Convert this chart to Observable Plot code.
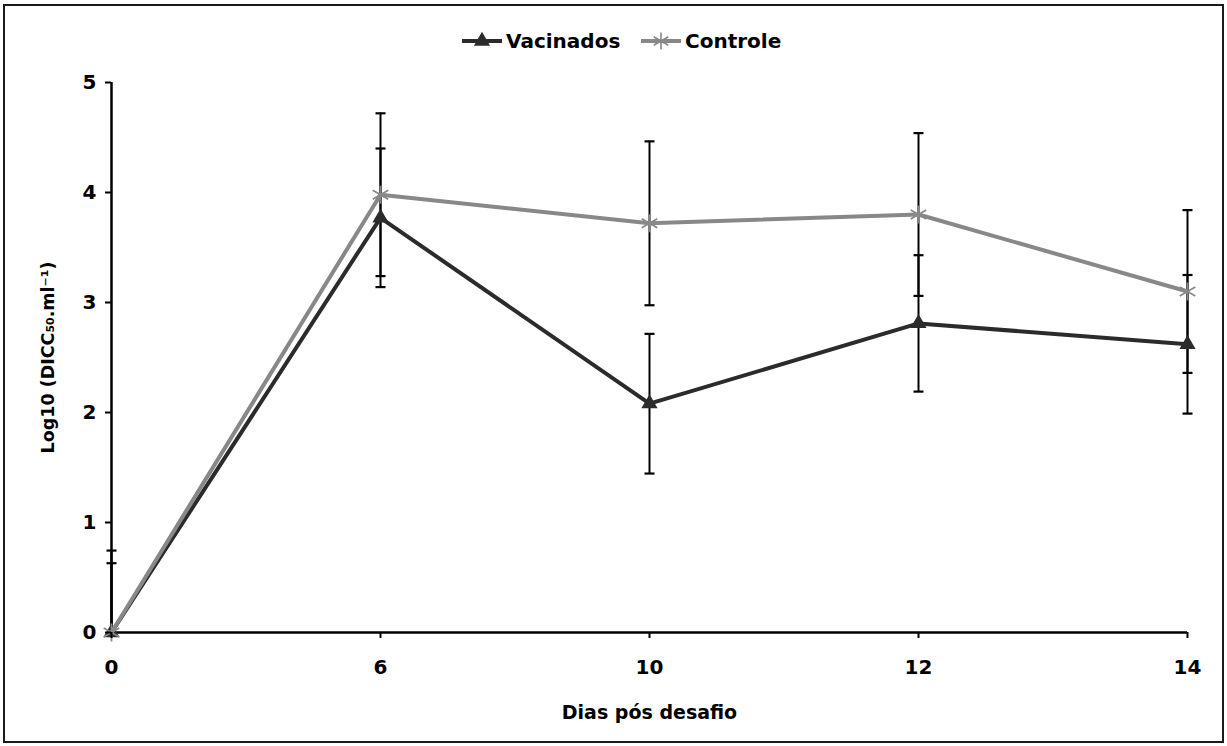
<!DOCTYPE html>
<html><head><meta charset="utf-8">
<script src="https://cdn.jsdelivr.net/npm/d3@7"></script>
<script src="https://cdn.jsdelivr.net/npm/@observablehq/plot@0.6"></script>
<style>
body{margin:0;background:#fff;font-family:"DejaVu Sans",sans-serif;}
#wrap{position:relative;width:1227px;height:746px;overflow:hidden;background:#fff;}
#border{position:absolute;left:3px;top:4px;width:1221px;height:739px;border:2px solid #1a1a1a;box-sizing:border-box;pointer-events:none}
#legend{position:relative;height:60px;}
.item{position:absolute;top:29px;height:24px;display:flex;align-items:center;font-weight:bold;font-size:20px;color:#000;}
.item svg{display:block;margin-right:2px;}
#chart svg{display:block;}
</style></head><body>
<div id="wrap"><div id="legend"></div><div id="chart"></div><div id="border"></div></div>
<script>
const days = ["0", "6", "10", "12", "14"];
const vacinados = [0, 3.77, 2.08, 2.81, 2.62];
const vacinadosErr = [0.63, 0.63, 0.635, 0.62, 0.63];
const controle = [0, 3.98, 3.72, 3.80, 3.10];
const controleErr = [0.745, 0.74, 0.745, 0.74, 0.74];
const seriesNames = ["Vacinados", "Controle"];
const yTicks = [0, 1, 2, 3, 4, 5];
const xLabel = "Dias pós desafio";
const yLabel = "Log10 (DICC₅₀.ml⁻¹)";

const vacColor = "#2b2b2b";
const ctrlColor = "#888888";

const vacRows = days.map((d, i) => ({day: d, v: vacinados[i], e: vacinadosErr[i]}));
const ctrlRows = days.map((d, i) => ({day: d, v: controle[i], e: controleErr[i]}));

// horizontal cap symbol for error bars
const capSymbol = {draw(ctx) { ctx.moveTo(-5, 0); ctx.lineTo(5, 0); }};

function errMarks(rows) {
  return [
    Plot.ruleX(rows, {x: "day", y1: d => Math.max(0, d.v - d.e), y2: d => d.v + d.e, stroke: "#000", strokeWidth: 2}),
    Plot.dot(rows, {x: "day", y: d => d.v + d.e, symbol: capSymbol, stroke: "#000", fill: "none", strokeWidth: 2.2}),
    Plot.dot(rows.filter(d => d.v - d.e >= 0), {x: "day", y: d => d.v - d.e, symbol: capSymbol, stroke: "#000", fill: "none", strokeWidth: 2.2})
  ];
}

const chart = Plot.plot({
  width: 1227,
  height: 686,
  marginTop: 22,
  marginBottom: 114,
  marginLeft: 111,
  marginRight: 40,
  x: {type: "point", domain: days, padding: 0},
  y: {domain: [0, 5]},
  style: {fontFamily: "DejaVu Sans", fontWeight: "bold", color: "#000", background: "transparent", overflow: "visible"},
  marks: [
    ...errMarks(vacRows),
    ...errMarks(ctrlRows),
    Plot.ruleY([0], {stroke: "#000", strokeWidth: 2.5}),
    Plot.ruleX([days[0]], {stroke: "#000", strokeWidth: 2.5}),
    Plot.line(vacRows, {x: "day", y: "v", stroke: vacColor, strokeWidth: 4}),
    Plot.dot(vacRows, {x: "day", y: "v", symbol: "triangle", r: 6, fill: vacColor, stroke: "none"}),
    Plot.line(ctrlRows, {x: "day", y: "v", stroke: ctrlColor, strokeWidth: 4}),
    Plot.dot(ctrlRows, {x: "day", y: "v", symbol: "asterisk", r: 8.5, stroke: ctrlColor, strokeWidth: 1.8}),
    Plot.axisX({tickSize: 6, tickPadding: 21, fontSize: 20, fontWeight: "bold", label: null, strokeWidth: 2}),
    Plot.axisY({ticks: yTicks, tickSize: 6, tickPadding: 9, fontSize: 20, fontWeight: "bold", label: null, strokeWidth: 2, tickFormat: d => String(d)}),
    Plot.text([xLabel], {frameAnchor: "bottom", dy: 86, text: d => d, fontSize: 19, fontWeight: "bold", textAnchor: "middle"}),
    Plot.text([yLabel], {frameAnchor: "left", dx: -63, rotate: -90, text: d => d, fontSize: 17.5, fontWeight: "bold", textAnchor: "middle"})
  ]
});
document.getElementById("chart").appendChild(chart);

// legend
const legend = document.getElementById("legend");
const lefts = [460, 639];
const colors = [vacColor, ctrlColor];
seriesNames.forEach((name, i) => {
  const item = document.createElement("div");
  item.className = "item";
  item.style.left = lefts[i] + "px";
  const svg = d3.create("svg").attr("width", 44).attr("height", 20);
  svg.append("line").attr("x1", 2).attr("x2", 42).attr("y1", 10).attr("y2", 10)
    .attr("stroke", colors[i]).attr("stroke-width", 4);
  if (i === 0) {
    svg.append("path").attr("transform", "translate(22,10)")
      .attr("d", d3.symbol(d3.symbolTriangle, 6 * 6 * Math.PI)()).attr("fill", colors[i]);
  } else {
    svg.append("path").attr("transform", "translate(22,10)")
      .attr("d", d3.symbol(d3.symbolAsterisk, 8 * 8 * Math.PI)()).attr("fill", "none")
      .attr("stroke", colors[i]).attr("stroke-width", 1.6);
  }
  item.appendChild(svg.node());
  const span = document.createElement("span");
  span.textContent = name;
  item.appendChild(span);
  legend.appendChild(item);
});
</script>
</body></html>
